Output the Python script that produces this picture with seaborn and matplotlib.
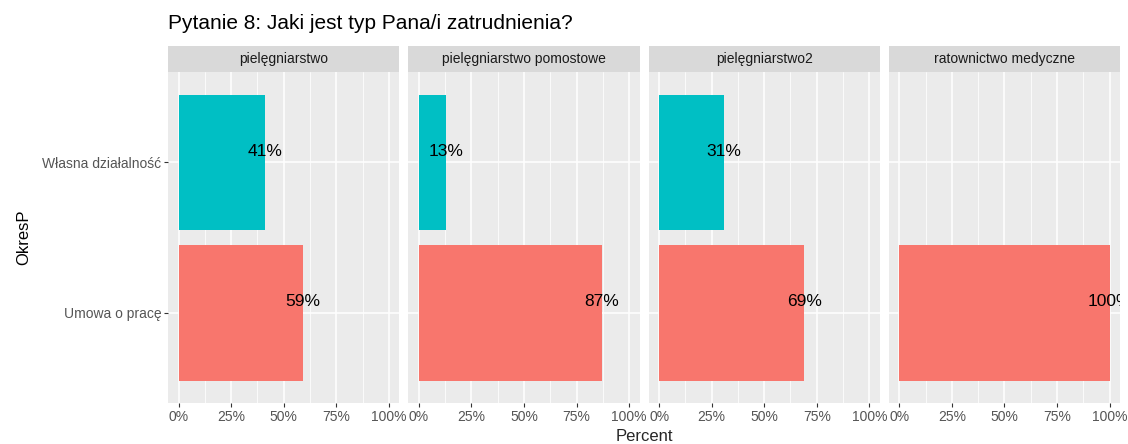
import numpy as np
import pandas as pd
import seaborn as sns
from matplotlib import pyplot as plt
from matplotlib.patches import Rectangle
from matplotlib.ticker import FixedLocator, PercentFormatter

# dane
kierunki = ["pielęgniarstwo", "pielęgniarstwo pomostowe", "pielęgniarstwo2", "ratownictwo medyczne"]
okres = ["Własna działalność", "Umowa o pracę"]
wlasna = [0.41, 0.13, 0.31, None]
umowa = [0.59, 0.87, 0.69, 1.00]
kolory = {"Własna działalność": "#00BFC4", "Umowa o pracę": "#F8766D"}
ticks = [0, 0.25, 0.5, 0.75, 1.0]

rows = []
for k, w, u in zip(kierunki, wlasna, umowa):
    if w is not None:
        rows.append((k, okres[0], w))
    if u is not None:
        rows.append((k, okres[1], u))
df = pd.DataFrame(rows, columns=["kierunek", "OkresP", "Percent"])

sns.set_theme(style="darkgrid", rc={
    "axes.facecolor": "#EBEBEB",
    "grid.color": "white",
    "axes.edgecolor": "#EBEBEB",
})
plt.rcParams["font.family"] = ["Liberation Sans", "DejaVu Sans"]

fig, axes = plt.subplots(1, 4, figsize=(11.28, 4.44), dpi=100, sharey=True)
fig.subplots_adjust(left=0.149, right=0.993, top=0.838, bottom=0.092, wspace=0.039)

for ax, k in zip(axes, kierunki):
    d = df[df["kierunek"] == k]
    sns.barplot(data=d, x="Percent", y="OkresP", hue="OkresP", order=okres,
                hue_order=okres, palette=kolory, orient="h", width=0.9,
                dodge=False, legend=False, errorbar=None, saturation=1,
                linewidth=0, edgecolor="none", ax=ax)
    for _, r in d.iterrows():
        i = okres.index(r["OkresP"])
        ax.text(r["Percent"], i - 0.073, f"{round(r['Percent'] * 100)}%",
                ha="center", va="center", fontsize=12.5, color="black", clip_on=True)
    ax.set_xlim(-0.05, 1.05)
    ax.set_ylim(1.6, -0.6)
    ax.xaxis.set_major_locator(FixedLocator(ticks))
    ax.xaxis.set_minor_locator(FixedLocator([0.125, 0.375, 0.625, 0.875]))
    ax.xaxis.set_major_formatter(PercentFormatter(1.0, decimals=0))
    ax.grid(True, which="major", color="white", linewidth=1.1)
    ax.grid(True, which="minor", axis="x", color="white", linewidth=0.55)
    ax.set_axisbelow(True)
    ax.tick_params(axis="both", which="major", length=3, width=0.8, color="#333333",
                   labelsize=10, labelcolor="#555555", pad=2, bottom=True, left=True)
    ax.tick_params(axis="both", which="minor", length=0)
    ax.set_xlabel("")
    ax.set_ylabel("")
    for s in ax.spines.values():
        s.set_visible(False)
    # pasek z nazwą panelu
    h = 26 / 331
    ax.add_patch(Rectangle((0, 1), 1, h, transform=ax.transAxes, facecolor="#D9D9D9",
                           edgecolor="none", clip_on=False))
    ax.text(0.5, 1 + h / 2, k, transform=ax.transAxes, ha="center", va="center",
            fontsize=10, color="#1A1A1A")

for ax in axes[1:]:
    ax.tick_params(axis="y", left=False)

axes[0].set_ylabel("OkresP", fontsize=12, color="black", labelpad=8)
fig.text(0.571, 0.018, "Percent", ha="center", va="center", fontsize=12)
fig.text(0.149, 0.946, "Pytanie 8: Jaki jest typ Pana/i zatrudnienia?", ha="left",
         va="center", fontsize=15, color="black")

fig.savefig("out.png", dpi=100)
